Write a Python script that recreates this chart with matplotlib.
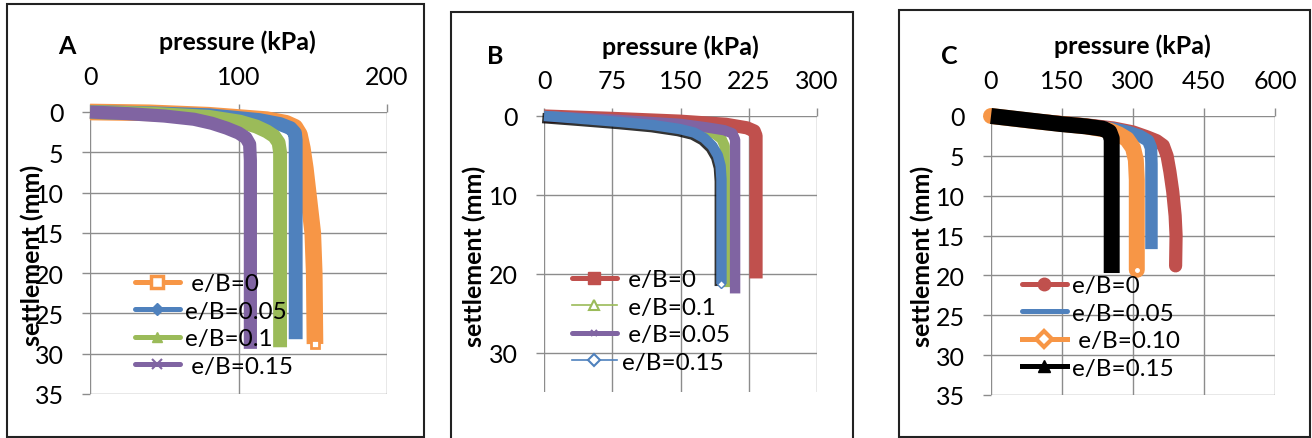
import matplotlib
matplotlib.use("Agg")
import matplotlib.pyplot as plt
import matplotlib.patheffects as pe
from matplotlib.lines import Line2D
from matplotlib.patches import Rectangle

plt.rcParams['font.family'] = ['Lato', 'DejaVu Sans']

W, H = 1312, 439

# colours (excel 2007 palette)
ORANGE = '#F79646'
BLUE = '#4F81BD'
GREEN = '#9BBB59'
PURPLE = '#8064A2'
RED = '#C0504D'
BLACK = '#000000'
GRID = '#8C8C8C'

# ---- panel A : pressure (kPa) vs settlement (mm)
a_e0_p = [0, 40, 80, 119, 132, 138, 141, 143, 145, 147.5, 150, 151, 151.5]
a_e0_s = [0, 0.1, 0.4, 0.95, 1.4, 1.9, 2.8, 4.5, 7, 11, 15, 20, 28.8]
a_e05_p = [0, 40, 80, 114, 128, 135, 138, 138.5, 138.5]
a_e05_s = [0, 0.15, 0.4, 1.0, 1.5, 2.0, 2.6, 3.5, 28.2]
a_e10_p = [0, 40, 80, 101, 112, 119, 124, 127, 128, 128]
a_e10_s = [0, 0.2, 0.6, 1.2, 1.8, 2.4, 3.0, 3.8, 5, 29.2]
a_e15_p = [0, 25, 50, 70, 82, 92, 100, 105, 107.5, 108, 108]
a_e15_s = [0, 0.2, 0.5, 0.9, 1.4, 2.0, 2.6, 3.2, 4, 6, 29.4]

# ---- panel B
b_e0_p = [0, 75, 149, 200, 223, 231, 233, 233]
b_e0_s = [0, 0.3, 0.65, 1.05, 1.5, 1.9, 2.5, 20.6]
b_e10_p = [0, 50, 100, 150, 175, 188, 195, 198.5, 199]
b_e10_s = [0, 0.4, 0.8, 1.25, 1.7, 2.3, 2.9, 3.8, 21.7]
b_e05_p = [0, 75, 150, 179, 198, 207, 210, 210]
b_e05_s = [0, 0.45, 1.0, 1.45, 1.8, 2.2, 3.0, 22.5]
b_e15_p = [0, 40, 83, 120, 149, 165, 176, 185, 191, 194, 195, 195]
b_e15_s = [0, 0.35, 0.75, 1.15, 1.65, 2.1, 2.8, 3.8, 5.0, 6.3, 8.0, 21.3]

# ---- panel C
c_e0_p = [0, 100, 200, 258, 300, 329, 350, 364, 372, 378, 384, 389, 391, 390]
c_e0_s = [0, 0.55, 1.1, 1.5, 2.0, 2.6, 3.1, 3.7, 5.0, 7.0, 9.5, 12.5, 15, 18.8]
c_e05_p = [0, 100, 200, 260, 290, 315, 332, 338, 339, 339]
c_e05_s = [0, 0.6, 1.2, 1.6, 2.0, 2.5, 3.1, 4.0, 6, 16.7]
c_e10_p = [0, 100, 200, 250, 270, 287, 300, 306, 308, 308]
c_e10_s = [0, 0.7, 1.3, 1.8, 2.3, 2.9, 4.0, 5.5, 8.0, 19.3]
c_e15_p = [0, 73, 146, 200, 237, 250, 255, 255]
c_e15_s = [0, 0.5, 1.0, 1.3, 1.6, 2.0, 2.8, 19.7]

a_xticks = [0, 100, 200]
b_xticks = [0, 75, 150, 225, 300]
c_xticks = [0, 150, 300, 450, 600]
a_yticks = [0, 5, 10, 15, 20, 25, 30, 35]
b_yticks = [0, 10, 20, 30]
c_yticks = [0, 5, 10, 15, 20, 25, 30, 35]

FS = 18      # tick text
FS_L = 17.5  # legend text
FS_T = 18    # bold titles

fig = plt.figure(figsize=(W / 100, H / 100), dpi=100)


def px_axes(l, t, r, b):
    return fig.add_axes([l / W, 1 - b / H, (r - l) / W, (b - t) / H])


def frame(l, t, r, b):
    fig.patches.append(Rectangle((l / W, 1 - b / H), (r - l) / W, (b - t) / H,
                                 transform=fig.transFigure, fill=False,
                                 edgecolor='#222222', linewidth=1.5))


def style(ax, xmax, xticks, yticks):
    ax.set_xlim(0, xmax)
    ax.set_ylim(35, 0)
    ax.set_xticks(xticks)
    ax.set_yticks(yticks)
    ax.xaxis.tick_top()
    for s in ax.spines.values():
        s.set_visible(False)
    ax.grid(True, color=GRID, linewidth=1.0)
    ax.set_axisbelow(True)
    ax.tick_params(axis='x', length=6, width=1.0, color=GRID, labelsize=FS, pad=11)
    ax.tick_params(axis='y', length=6, width=1.0, color=GRID, labelsize=FS, pad=13)


def band(ax, p, s, color, lw, cap='butt', **kw):
    ax.plot(p, s, color=color, lw=lw, solid_capstyle=cap, solid_joinstyle='round',
            clip_on=False, **kw)


def titles(ax, letter, lx, ly, tx, ty, sx, sy):
    fig.text(lx / W, 1 - ly / H, letter, fontsize=FS_T, fontweight='bold', ha='center', va='center')
    fig.text(tx / W, 1 - ty / H, 'pressure (kPa)', fontsize=FS_T, fontweight='bold', ha='center', va='center')
    fig.text(sx / W, 1 - sy / H, 'settlement (mm)', fontsize=FS_T, fontweight='bold', ha='center',
             va='center', rotation=90)


def put_legend(ax, handles, labels, x, y):
    ax.legend(handles, labels, loc='upper left', bbox_to_anchor=(x / W, 1 - y / H),
              bbox_transform=fig.transFigure, frameon=False, borderpad=0, borderaxespad=0,
              handlelength=1.85, handletextpad=0.2, labelspacing=0.27, fontsize=FS_L)


# ================= A
frame(7, 5, 424, 438)
axA = px_axes(90, 113, 387, 395)
style(axA, 200, a_xticks, a_yticks)
band(axA, a_e0_p, a_e0_s, ORANGE, 12)
band(axA, a_e05_p, a_e05_s, BLUE, 10)
band(axA, a_e10_p, a_e10_s, GREEN, 10)
band(axA, a_e15_p, a_e15_s, PURPLE, 9.5)
axA.plot(a_e0_p[-1], a_e0_s[-1], 's', ms=6, mfc='white', mec=ORANGE, mew=2, clip_on=False)
titles(axA, 'A', 67, 46, 237, 42, 32, 255)
hA = [Line2D([], [], color=ORANGE, lw=3.6, solid_capstyle='round', marker='s', ms=8, mfc='white', mec=ORANGE, mew=2.5),
      Line2D([], [], color=BLUE, lw=3.6, solid_capstyle='round', marker='D', ms=6),
      Line2D([], [], color=GREEN, lw=3.6, solid_capstyle='round', marker='^', ms=7),
      Line2D([], [], color=PURPLE, lw=3.6, solid_capstyle='round', marker='x', ms=7, mew=1.5)]
put_legend(axA, hA, [' e/B=0', 'e/B=0.05', 'e/B=0.1', ' e/B=0.15'], 135, 274)

# ================= B
frame(451, 13, 853, 440)
axB = px_axes(544, 117, 817, 393)
style(axB, 300, b_xticks, b_yticks)
band(axB, b_e0_p, b_e0_s, RED, 9.5)
band(axB, b_e10_p, b_e10_s, GREEN, 7.5)
band(axB, b_e05_p, b_e05_s, PURPLE, 7.5)
axB.plot(b_e15_p, b_e15_s, color=BLUE, lw=7.5, solid_capstyle='butt', solid_joinstyle='round',
         clip_on=False,
         path_effects=[pe.SimpleLineShadow(offset=(-1.2, -1.5), shadow_color='black', alpha=0.8), pe.Normal()])
axB.plot(b_e15_p[-1], b_e15_s[-1], 'D', ms=4, mfc='white', mec=BLUE, mew=1, clip_on=False)
titles(axB, 'B', 495, 57, 680, 47, 474, 256)
hB = [Line2D([], [], color=RED, lw=3.6, solid_capstyle='round', marker='s', ms=8),
      Line2D([], [], color=GREEN, lw=1.2, marker='^', ms=7, mfc='white', mec=GREEN, mew=1.5),
      Line2D([], [], color=PURPLE, lw=3.6, solid_capstyle='round', marker='x', ms=5, mew=1.5),
      Line2D([], [], color=BLUE, lw=1.2, marker='D', ms=6, mfc='white', mec=BLUE, mew=1.5)]
put_legend(axB, hB, [' e/B=0', ' e/B=0.1', ' e/B=0.05', 'e/B=0.15'], 572, 270)

# ================= C
frame(899, 11, 1310, 438)
axC = px_axes(991, 117, 1275, 396)
style(axC, 600, c_xticks, c_yticks)
band(axC, c_e0_p, c_e0_s, RED, 9.5, cap='round')
band(axC, c_e05_p, c_e05_s, BLUE, 9, cap='butt')
band(axC, c_e10_p, c_e10_s, ORANGE, 11.5, cap='round')
band(axC, c_e15_p, c_e15_s, BLACK, 11.5, cap='butt')
axC.plot(c_e10_p[-1], c_e10_s[-1], 'o', ms=2.5, mfc='white', mec='white', clip_on=False)
titles(axC, 'C', 949, 57, 1132, 46, 922, 256)
hC = [Line2D([], [], color=RED, lw=3.6, solid_capstyle='round', marker='o', ms=9),
      Line2D([], [], color=BLUE, lw=3.6, solid_capstyle='round'),
      Line2D([], [], color=ORANGE, lw=3.6, marker='D', ms=8, mfc='white', mec=ORANGE, mew=3),
      Line2D([], [], color=BLACK, lw=3.6, marker='^', ms=8)]
put_legend(axC, hC, ['e/B=0', 'e/B=0.05', ' e/B=0.10', 'e/B=0.15'], 1022, 276)

fig.savefig('out.png', dpi=100)
